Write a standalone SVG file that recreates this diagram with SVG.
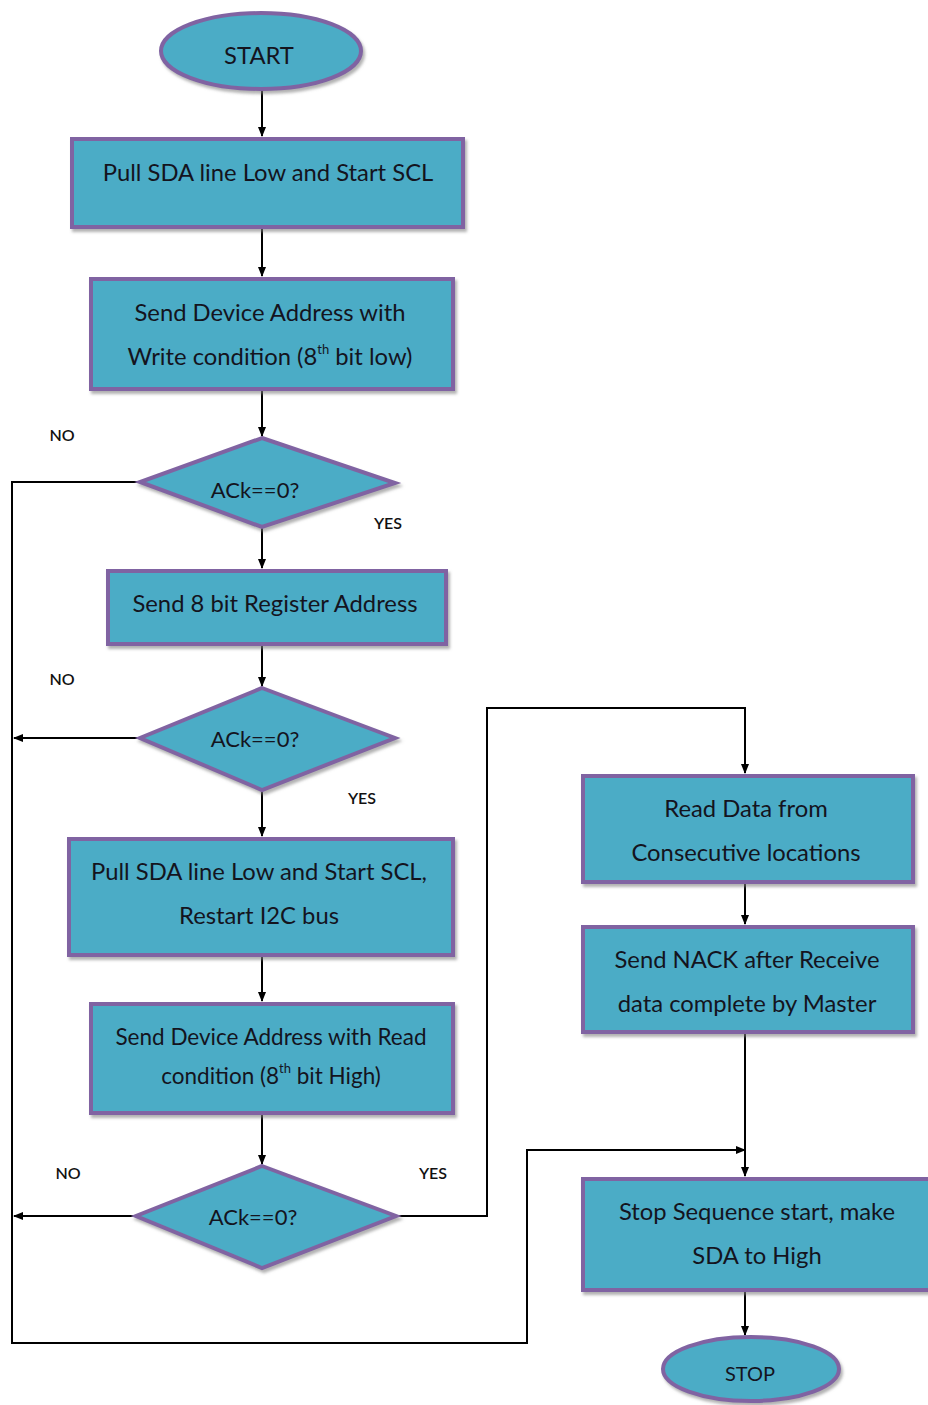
<svg xmlns="http://www.w3.org/2000/svg" width="928" height="1405" viewBox="0 0 928 1405">
  <defs>
    <marker id="arrow" markerWidth="10" markerHeight="10" refX="9" refY="5" orient="auto" markerUnits="userSpaceOnUse">
      <path d="M0,1 L10,5 L0,9 Z" fill="#000"/>
    </marker>
    <filter id="shadow" x="-5%" y="-5%" width="115%" height="120%">
      <feDropShadow dx="2" dy="3" stdDeviation="1.5" flood-color="#7f7f7f" flood-opacity="0.6"/>
    </filter>
  </defs>
  <style>
    .shape { fill: #4BACC6; stroke: #8064A2; stroke-width: 4; filter: url(#shadow); }
    .t { font-family: Lato, "Open Sans", "Liberation Sans", sans-serif; font-size: 23.8px; fill: #14141e; text-anchor: middle; dominant-baseline: central; }
    .small { font-size: 22.5px; }
    .dia { font-size: 22px; }
    .lbl { font-family: Lato, "Liberation Sans", sans-serif; font-size: 16px; font-weight: 600; fill: #111; text-anchor: middle; dominant-baseline: central; }
    .sup { font-size: 13px; }
    .conn { fill: none; stroke: #000; stroke-width: 2; }
  </style>
  <rect width="928" height="1405" fill="#fff"/>

  <!-- connectors -->
  <g id="connectors">
    <path class="conn" d="M262,90 V136" marker-end="url(#arrow)"/>
    <path class="conn" d="M262,229 V276" marker-end="url(#arrow)"/>
    <path class="conn" d="M262,391 V436" marker-end="url(#arrow)"/>
    <path class="conn" d="M262,528 V568" marker-end="url(#arrow)"/>
    <path class="conn" d="M262,646 V686" marker-end="url(#arrow)"/>
    <path class="conn" d="M262,792 V836" marker-end="url(#arrow)"/>
    <path class="conn" d="M262,957 V1001" marker-end="url(#arrow)"/>
    <path class="conn" d="M262,1115 V1164" marker-end="url(#arrow)"/>
    <!-- NO branches -->
    <path class="conn" d="M140,482 H12 V1343 H527 V1150 H745" marker-end="url(#arrow)"/>
    <path class="conn" d="M140,738 H14" marker-end="url(#arrow)"/>
    <path class="conn" d="M136,1216 H14" marker-end="url(#arrow)"/>
    <!-- YES branch to read -->
    <path class="conn" d="M396,1216 H487 V708 H745 V773" marker-end="url(#arrow)"/>
    <path class="conn" d="M745,884 V924" marker-end="url(#arrow)"/>
    <path class="conn" d="M745,1034 V1176" marker-end="url(#arrow)"/>
    <path class="conn" d="M745,1292 V1335" marker-end="url(#arrow)"/>
  </g>

  <g id="start">
    <ellipse class="shape" cx="261" cy="51" rx="100" ry="38"/>
    <text class="t" x="259" y="55">START</text>
  </g>

  <g id="pull-sda">
    <rect class="shape" x="72" y="139" width="391" height="88"/>
    <text class="t" x="268" y="172">Pull SDA line Low and Start SCL</text>
  </g>

  <g id="send-write-addr">
    <rect class="shape" x="91" y="279" width="362" height="110"/>
    <text class="t" x="270" y="312">Send Device Address with</text>
    <text class="t" x="270" y="356">Write condition (8<tspan class="sup" dy="-7">th</tspan><tspan dy="7"> bit low)</tspan></text>
  </g>

  <g id="ack1">
    <polygon class="shape" points="262,438 395,483 262,527 140,482"/>
    <text class="t dia" x="255" y="489">ACk==0?</text>
  </g>

  <g id="send-reg">
    <rect class="shape" x="108" y="571" width="338" height="73"/>
    <text class="t" x="275" y="603">Send 8 bit Register Address</text>
  </g>

  <g id="ack2">
    <polygon class="shape" points="262,688 395,738 262,790 140,738"/>
    <text class="t dia" x="255" y="738">ACk==0?</text>
  </g>

  <g id="restart">
    <rect class="shape" x="69" y="839" width="384" height="116"/>
    <text class="t" x="259" y="871">Pull SDA line Low and Start SCL,</text>
    <text class="t" x="259" y="915">Restart I2C bus</text>
  </g>

  <g id="send-read-addr">
    <rect class="shape" x="91" y="1004" width="362" height="109"/>
    <text class="t small" x="271" y="1036">Send Device Address with Read</text>
    <text class="t small" x="271" y="1075">condition (8<tspan class="sup" dy="-7">th</tspan><tspan dy="7"> bit High)</tspan></text>
  </g>

  <g id="ack3">
    <polygon class="shape" points="262,1166 396,1216 262,1268 136,1216"/>
    <text class="t dia" x="253" y="1216">ACk==0?</text>
  </g>

  <g id="read-data">
    <rect class="shape" x="583" y="776" width="330" height="106"/>
    <text class="t" x="746" y="808">Read Data from</text>
    <text class="t" x="746" y="852">Consecutive locations</text>
  </g>

  <g id="send-nack">
    <rect class="shape" x="583" y="927" width="330" height="105"/>
    <text class="t" x="747" y="959">Send NACK after Receive</text>
    <text class="t" x="747" y="1003">data complete by Master</text>
  </g>

  <g id="stop-seq">
    <rect class="shape" x="583" y="1179" width="350" height="111"/>
    <text class="t" x="757" y="1211">Stop Sequence start, make</text>
    <text class="t" x="757" y="1255">SDA to High</text>
  </g>

  <g id="stop">
    <ellipse class="shape" cx="751" cy="1369" rx="88" ry="32"/>
    <text class="t" x="750" y="1373" style="font-size:20px">STOP</text>
  </g>

  <g id="labels">
    <text class="lbl" x="62" y="434">NO</text>
    <text class="lbl" x="388" y="522">YES</text>
    <text class="lbl" x="62" y="678">NO</text>
    <text class="lbl" x="362" y="797">YES</text>
    <text class="lbl" x="68" y="1172">NO</text>
    <text class="lbl" x="433" y="1172">YES</text>
  </g>
</svg>
